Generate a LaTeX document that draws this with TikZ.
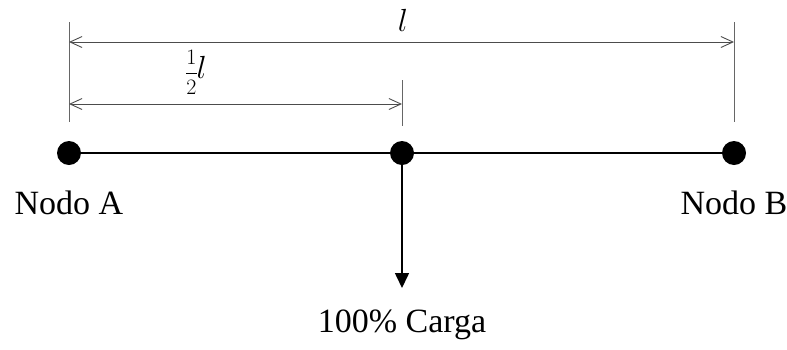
\RequirePackage{fix-cm}
\documentclass[tikz,border=0pt]{standalone}
\usepackage{fontspec}
\setmainfont{Liberation Serif}
\usepackage{tikz}
\usetikzlibrary{positioning, arrows.meta}
\usepackage{amsmath}

\begin{document}
\begin{tikzpicture}[x=1pt, y=-1pt,
  dot/.style={circle, fill=black, inner sep=0pt, minimum size=24pt},
  beam/.style={line width=1.6pt},
  load/.style={line width=1.6pt, -{Triangle[length=15pt, width=14pt]}},
  dim/.style={draw=black!70, line width=0.9pt,
    {Straight Barb[length=12pt, width=11pt]}-{Straight Barb[length=12pt, width=11pt]}},
  ext/.style={draw=black!60, line width=0.9pt},
  lbl/.style={font=\fontsize{34}{40}\selectfont, inner sep=0pt},
  mlbl/.style={font=\fontsize{32}{38}\selectfont, inner sep=0pt},
]
\useasboundingbox (0,0) rectangle (787,349);

% Beam and nodes
\node[dot] (nodoA) at (69,153) {};
\node[dot] (centro) at (402,153) {};
\node[dot] (nodoB) at (734,153) {};
\draw[beam] (nodoA) -- (centro) -- (nodoB);

% Node labels
\node[lbl] (txtA) at (69,203) {Nodo A};
\node[lbl] (txtB) at (734,203) {Nodo B};

% Load
\coordinate (tip) at (402,288);
\draw[load] (centro.center) -- (tip);
\node[lbl] (carga) at (402,325) {100\% Carga};

% Extension lines
\coordinate (extA1) at (69,22);  \coordinate (extA2) at (69,122);
\coordinate (extB1) at (734,22); \coordinate (extB2) at (734,122);
\coordinate (extC1) at (402,80); \coordinate (extC2) at (402,126);
\draw[ext] (extA1) -- (extA2);
\draw[ext] (extB1) -- (extB2);
\draw[ext] (extC1) -- (extC2);

% Dimension lines
\coordinate (dimA) at (69,42);  \coordinate (dimB) at (734,42);
\coordinate (dimA2) at (69,104); \coordinate (dimC) at (402,104);
\draw[dim] (dimA) -- (dimB);
\draw[dim] (dimA2) -- (dimC);
\node[mlbl] (largo) at (403,20) {$l$};
\node[mlbl] (mitad) at (196,72)
  {{\fontsize{22}{26}\selectfont$\dfrac{1}{2}$}\kern-1pt$l$};
\end{tikzpicture}
\end{document}
